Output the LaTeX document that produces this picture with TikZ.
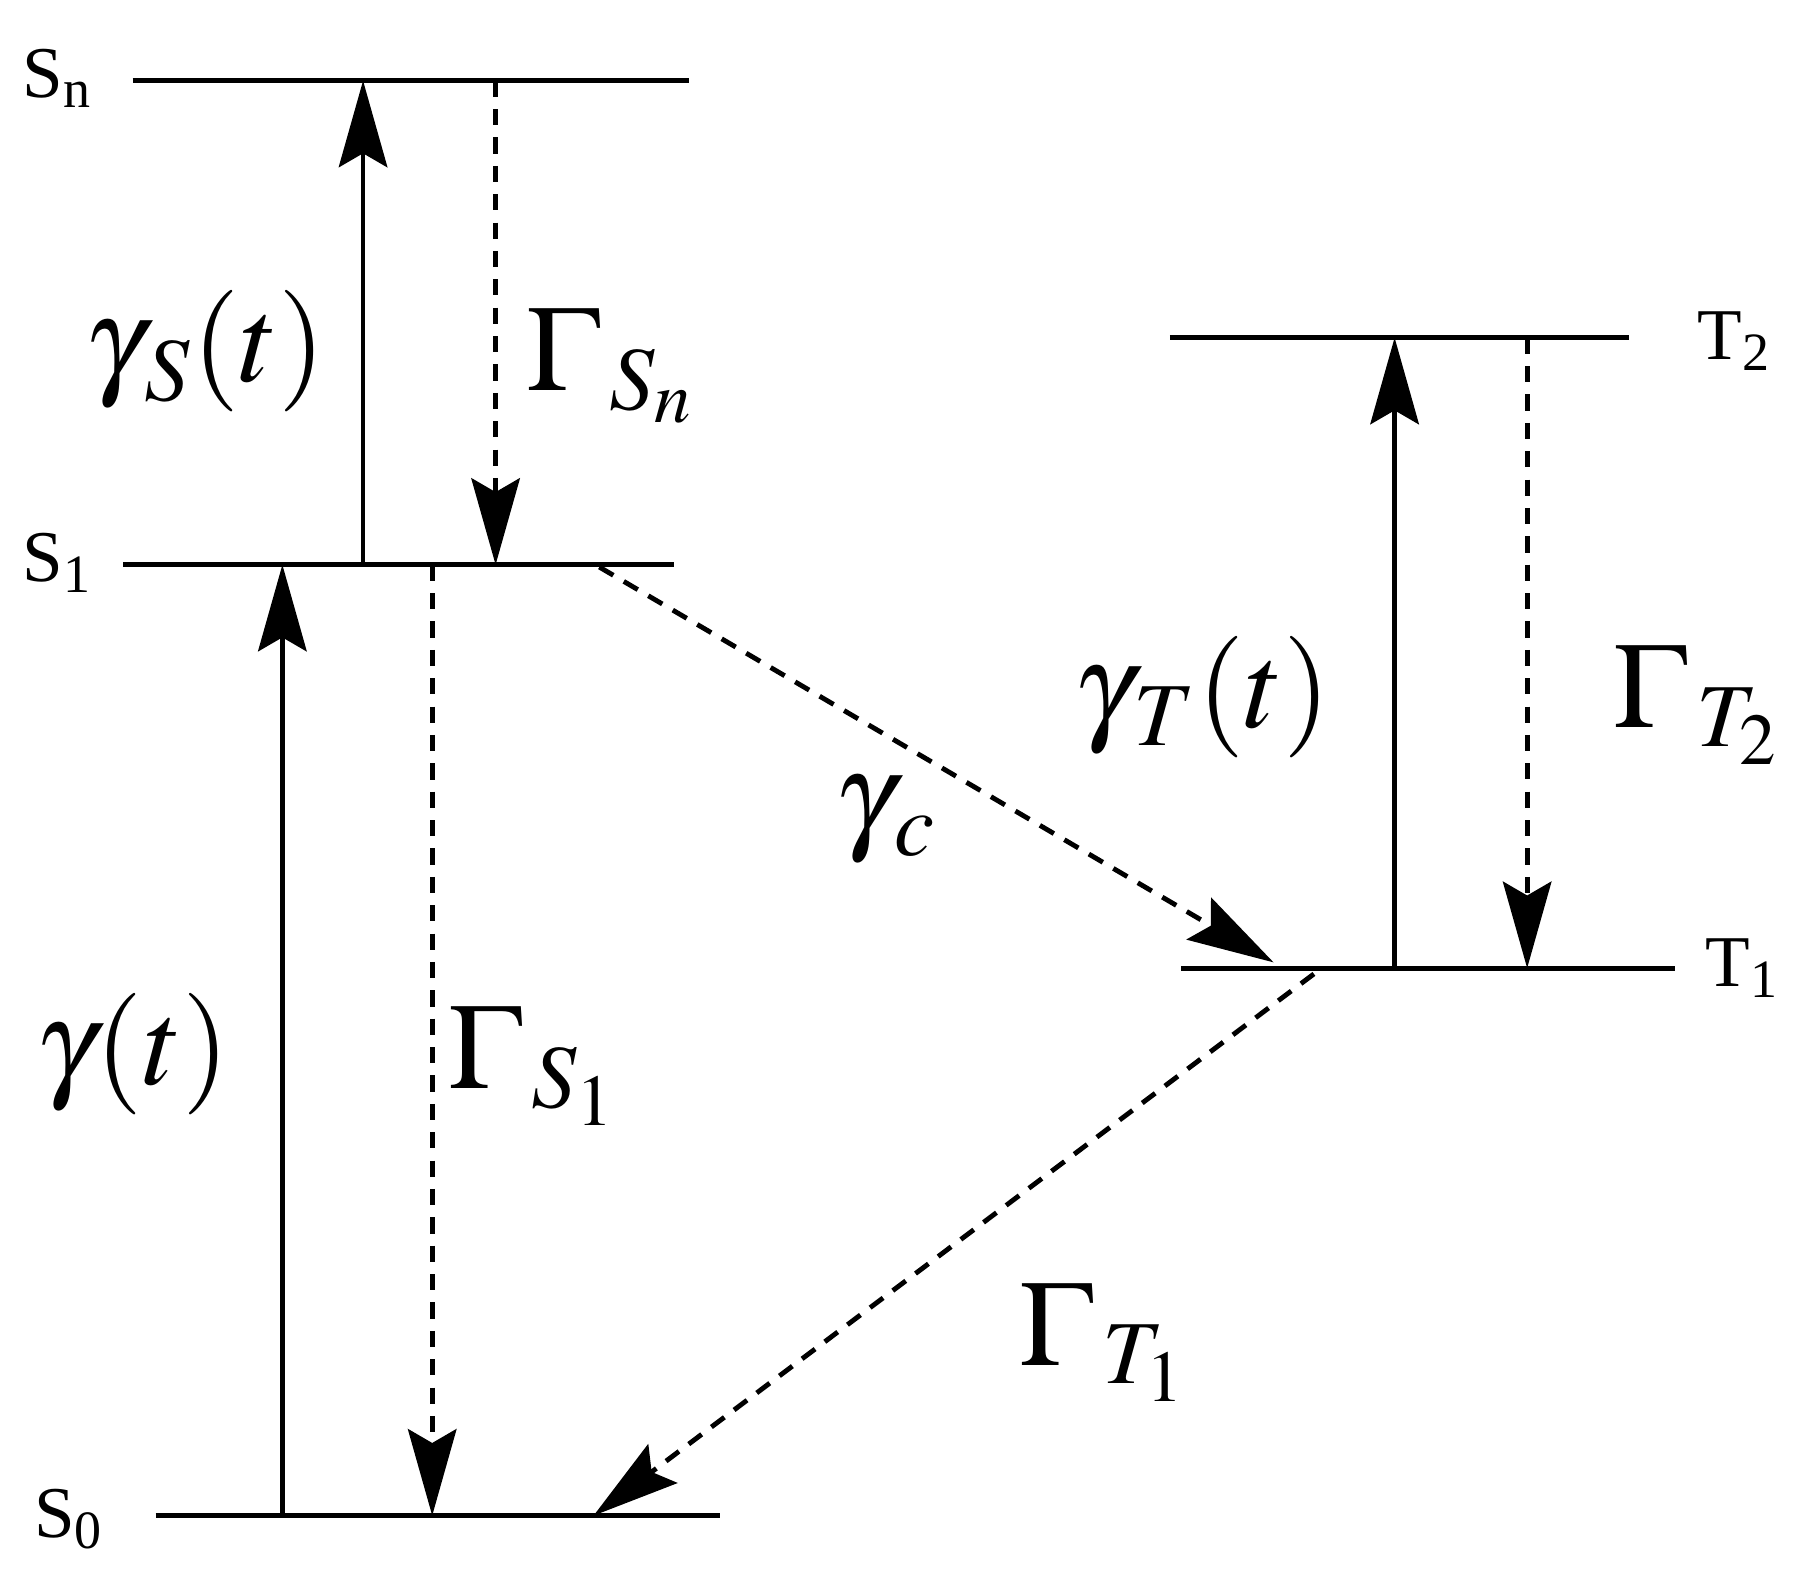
\documentclass[tikz,border=0pt]{standalone}
\usepackage{mathptmx}
\usepackage{fontspec}
\setmainfont{Liberation Serif}
\usetikzlibrary{arrows.meta, calc}

\begin{document}
\begin{tikzpicture}[x=0.01cm, y=-0.01cm]
\tikzstyle{level} = [line width=1.3pt]
\tikzstyle{arrow} = [line width=1.2pt, -{Stealth[length=0.75cm, width=0.42cm, inset=0.12cm]}]
\tikzstyle{decay} = [arrow, dash pattern=on 4pt off 3pt]
\tikzstyle{lab} = [font=\fontsize{18}{18}\selectfont]
\tikzstyle{rate} = [font=\fontsize{30}{30}\selectfont]

\useasboundingbox (0,0) rectangle (1560,1370);

% Energy levels
\draw[level] (115,70) -- (598,70);
\draw[level] (107,490) -- (585,490);
\draw[level] (135,1315) -- (625,1315);
\draw[level] (1015,293) -- (1413,293);
\draw[level] (1025,840) -- (1453,840);

% Level labels
\node (sn) [lab] at (50,68) {S\textsubscript{n}};
\node (s1) [lab] at (50,488) {S\textsubscript{1}};
\node (s0) [lab] at (60,1318) {S\textsubscript{0}};
\node (t2) [lab] at (1505,296) {T\textsubscript{2}};
\node (t1) [lab] at (1512,840) {T\textsubscript{1}};

% End points on the levels
\coordinate (a0) at (245,1315); \coordinate (a1) at (245,490);
\coordinate (b1) at (375,490);  \coordinate (b0) at (375,1315);
\coordinate (c1) at (315,490);  \coordinate (cn) at (315,70);
\coordinate (dn) at (430,70);   \coordinate (d1) at (430,490);
\coordinate (e1) at (520,492);  \coordinate (et) at (1105,835);
\coordinate (f1) at (1140,845); \coordinate (f0) at (515,1315);
\coordinate (g1) at (1210,840); \coordinate (g2) at (1210,293);
\coordinate (h2) at (1325,293); \coordinate (h1) at (1325,840);

% Transitions
\draw [arrow] (a0) -- (a1);
\draw [decay] (b1) -- (b0);
\draw [arrow] (c1) -- (cn);
\draw [decay] (dn) -- (d1);
\draw [decay] (e1) -- (et);
\draw [decay] (f1) -- (f0);
\draw [arrow] (g1) -- (g2);
\draw [decay] (h2) -- (h1);

% Rate labels
\node (gs) [rate] at (178,305) {$\gamma_{\,S}(t)$};
\node (gsn) [rate] at (530,318) {$\Gamma_{\,S_n}$};
\node (g) [rate] at (115,915) {$\gamma(t)$};
\node (gs1) [rate] at (462,925) {$\Gamma_{\,S_1}$};
\node (gc) [rate] at (768,712) {$\gamma_{\,c}$};
\node (gt) [rate] at (1043,605) {$\gamma_{\,T}(t)$};
\node (gt2) [rate] at (1472,612) {$\Gamma_{\,T_2}$};
\node (gt1) [rate] at (957,1165) {$\Gamma_{\,T_1}$};

\end{tikzpicture}
\end{document}
